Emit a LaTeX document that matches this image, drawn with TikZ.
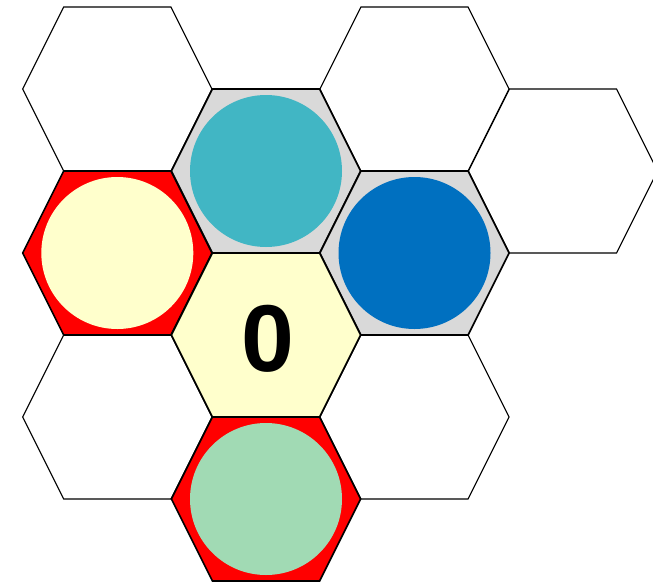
\documentclass[tikz,border=0pt]{standalone}
\usepackage{fontspec}
\setmainfont{Liberation Sans}
\usepackage{tikz}

\definecolor{hexred}{HTML}{FF0000}
\definecolor{paleyellow}{HTML}{FFFFCC}
\definecolor{hexgrey}{HTML}{D9D9D9}
\definecolor{tealdisc}{HTML}{41B6C4}
\definecolor{bluedisc}{HTML}{0070C0}
\definecolor{greendisc}{HTML}{A1DAB4}

\tikzset{
  blankhex/.style={draw=black,line width=1.1pt,line join=miter},
  cellhex/.style={draw=black,line width=1.6pt,line join=miter},
}

\begin{document}
\begin{tikzpicture}[x=1pt,y=-1pt]
  \useasboundingbox (0,0) rectangle (653,584);
  % empty cells
  \foreach \cx/\cy in {117.3/89, 117.3/417, 414.5/89, 414.5/417, 563/171}
    \draw[blankhex] (\cx-94.6,\cy) -- (\cx-53.6,\cy-82) -- (\cx+53.6,\cy-82)
      -- (\cx+94.6,\cy) -- (\cx+53.6,\cy+82) -- (\cx-53.6,\cy+82) -- cycle;
  % coloured cells
  \foreach \cx/\cy/\col in {266/171/hexgrey, 414.5/253/hexgrey, 117.3/253/hexred,
                             266/499/hexred, 266/335/paleyellow}
    \draw[cellhex,fill=\col] (\cx-94.6,\cy) -- (\cx-53.6,\cy-82) -- (\cx+53.6,\cy-82)
      -- (\cx+94.6,\cy) -- (\cx+53.6,\cy+82) -- (\cx-53.6,\cy+82) -- cycle;
  % discs
  \fill[tealdisc] (266,171) circle (76);
  \fill[bluedisc] (414.5,253) circle (76);
  \fill[paleyellow] (117.3,253) circle (76);
  \fill[greendisc] (266,499) circle (76);
  \node[inner sep=0pt,font=\fontsize{95}{95}\selectfont\bfseries] (zero) at (268.3,339.2) {0};
\end{tikzpicture}
\end{document}
